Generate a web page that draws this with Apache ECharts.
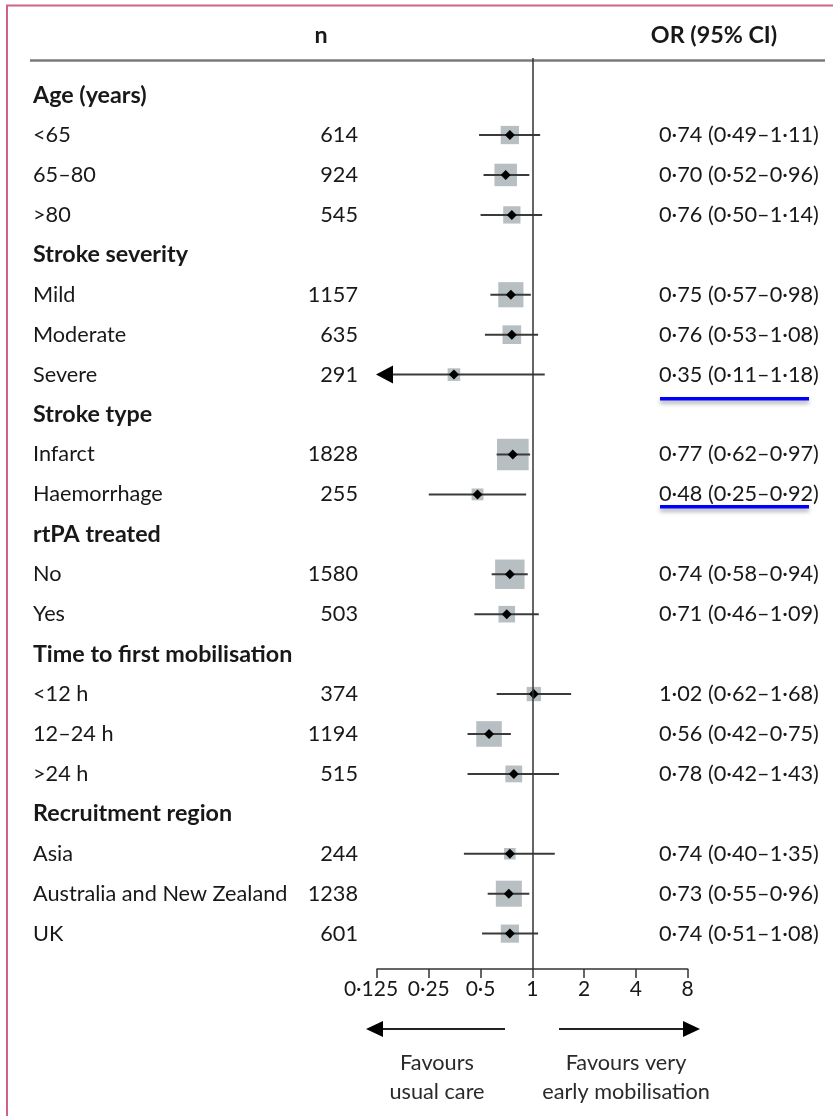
<!DOCTYPE html>
<html>
<head>
<meta charset="utf-8">
<script src="https://cdn.jsdelivr.net/npm/echarts@6/dist/echarts.min.js"></script>
<style>
html,body{margin:0;padding:0;background:#fff;}
#chart{width:833px;height:1116px;}
</style>
</head>
<body>
<div id="chart"></div>
<script>
// ---- data ----
const rowLabels = ['Age (years)', '<65', '65–80', '>80', 'Stroke severity', 'Mild', 'Moderate', 'Severe',
  'Stroke type', 'Infarct', 'Haemorrhage', 'rtPA treated', 'No', 'Yes', 'Time to first mobilisation',
  '<12 h', '12–24 h', '>24 h', 'Recruitment region', 'Asia', 'Australia and New Zealand', 'UK'];
const nValues = [null, 614, 924, 545, null, 1157, 635, 291, null, 1828, 255, null, 1580, 503, null, 374, 1194, 515, null, 244, 1238, 601];
const orValues = [null, 0.74, 0.70, 0.76, null, 0.75, 0.76, 0.35, null, 0.77, 0.48, null, 0.74, 0.71, null, 1.02, 0.56, 0.78, null, 0.74, 0.73, 0.74];
const ciLower = [null, 0.49, 0.52, 0.50, null, 0.57, 0.53, 0.11, null, 0.62, 0.25, null, 0.58, 0.46, null, 0.62, 0.42, 0.42, null, 0.40, 0.55, 0.51];
const ciUpper = [null, 1.11, 0.96, 1.14, null, 0.98, 1.08, 1.18, null, 0.97, 0.92, null, 0.94, 1.09, null, 1.68, 0.75, 1.43, null, 1.35, 0.96, 1.08];
const tickValues = [0.125, 0.25, 0.5, 1, 2, 4, 8];
const tickLabels = ['0·125', '0·25', '0·5', '1', '2', '4', '8'];

// ---- layout / style ----
const FONT = 'Lato, "Open Sans", sans-serif';
const TXT = '#1a1718';
const REG = '21.7px ' + FONT;
const BOLD = 'bold 23.3px ' + FONT;
const fmt = v => v.toFixed(2).replace('.', '·');
const xMin = 0.125, xMax = 8;

const chart = echarts.init(document.getElementById('chart'), null, {renderer: 'canvas'});

const rows = rowLabels.map((l, i) => [i, orValues[i] == null ? 1 : orValues[i]]);

function txt(text, x, y, align, font, fill) {
  return {type: 'text', style: {text, x, y, align, verticalAlign: 'middle',
    textAlign: align, textVerticalAlign: 'middle', font, fill: fill || TXT}};
}

function renderItem(params, api) {
  const i = params.dataIndex;
  const y = api.coord([1, i])[1];
  const children = [];
  const header = nValues[i] == null;
  children.push(txt(rowLabels[i], 33, y, 'left', header ? BOLD : REG));
  if (header) return {type: 'group', children};
  children.push(txt(String(nValues[i]), 358, y, 'right', REG));
  children.push(txt(fmt(orValues[i]) + ' (' + fmt(ciLower[i]) + '–' + fmt(ciUpper[i]) + ')', 659, y, 'left', REG));
  const clippedLow = ciLower[i] < xMin;
  const xl = api.coord([Math.max(ciLower[i], xMin), i])[0];
  const xh = api.coord([Math.min(ciUpper[i], xMax), i])[0];
  const xc = api.coord([orValues[i], i])[0];
  const side = 0.74 * Math.sqrt(nValues[i]);
  children.push({
    type: 'rect',
    shape: {x: xc - side / 2, y: y - side / 2, width: side, height: side},
    style: {fill: '#b7bfc3'}
  });
  children.push({
    type: 'line',
    shape: {x1: clippedLow ? xl + 10 : xl, y1: y, x2: xh, y2: y},
    style: {stroke: '#3a3a3a', lineWidth: 2}
  });
  if (clippedLow) {
    children.push({
      type: 'polygon',
      shape: {points: [[xl - 1, y], [xl + 16, y - 9], [xl + 16, y + 9]]},
      style: {fill: '#000'}
    });
  }
  const d = 5;
  children.push({
    type: 'polygon',
    shape: {points: [[xc - d, y], [xc, y - d], [xc + d, y], [xc, y + d]]},
    style: {fill: '#000'}
  });
  return {type: 'group', children};
}

const option = {
  backgroundColor: '#fff',
  animation: false,
  grid: {left: 377, right: 833 - 687.7, top: 58, bottom: 1116 - 969, containLabel: false},
  xAxis: {
    type: 'log', logBase: 2, min: xMin, max: xMax, splitNumber: 6, position: 'bottom',
    axisLine: {show: true, onZero: false, lineStyle: {color: '#333', width: 1.5}},
    axisTick: {show: true, length: 9, lineStyle: {color: '#333', width: 1.5}},
    axisLabel: {
      show: true, margin: 10, fontSize: 21, fontFamily: FONT, color: TXT,
      formatter: v => {
        const k = tickValues.findIndex(t => Math.abs(t - v) < 1e-9);
        if (k < 0) return '';
        return k === 0 ? '{first|' + tickLabels[k] + '}' : tickLabels[k];
      },
      rich: {first: {fontSize: 21, fontFamily: FONT, color: TXT, padding: [0, 12, 0, 0]}}
    },
    splitLine: {show: false}, minorTick: {show: false}
  },
  yAxis: {
    type: 'value', inverse: true, min: -0.929, max: 21.886, show: false
  },
  series: [{
    type: 'custom',
    data: rows,
    renderItem: renderItem,
    clip: false,
    silent: true,
    markLine: {
      silent: true, symbol: 'none', label: {show: false},
      lineStyle: {color: '#333', width: 1.5, type: 'solid'},
      data: [{xAxis: 1}]
    }
  }],
  graphic: [
    // frame
    {type: 'line', shape: {x1: 7, y1: 5, x2: 7, y2: 1116}, style: {stroke: '#d0628a', lineWidth: 2}},
    {type: 'line', shape: {x1: 6, y1: 5.5, x2: 833, y2: 5.5}, style: {stroke: '#d0628a', lineWidth: 2}},
    // header line
    {type: 'line', shape: {x1: 30, y1: 60.5, x2: 825, y2: 60.5}, style: {stroke: '#7a7a7a', lineWidth: 2.5}},
    txt('n', 321, 35, 'center', BOLD),
    txt('OR (95% CI)', 714, 35, 'center', BOLD),
    // blue underlines
    {type: 'rect', shape: {x: 660, y: 397, width: 149, height: 3.5},
      style: {fill: '#0000ff', shadowBlur: 4, shadowOffsetY: 3, shadowColor: 'rgba(0,0,0,0.35)'}},
    {type: 'rect', shape: {x: 660, y: 505, width: 149, height: 3.5},
      style: {fill: '#0000ff', shadowBlur: 4, shadowOffsetY: 3, shadowColor: 'rgba(0,0,0,0.35)'}},
    // direction arrows
    {type: 'line', shape: {x1: 380, y1: 1029, x2: 505, y2: 1029}, style: {stroke: '#222', lineWidth: 2}},
    {type: 'polygon', shape: {points: [[366, 1029], [383, 1021], [383, 1037]]}, style: {fill: '#000'}},
    {type: 'line', shape: {x1: 559, y1: 1029, x2: 686, y2: 1029}, style: {stroke: '#222', lineWidth: 2}},
    {type: 'polygon', shape: {points: [[700, 1029], [683, 1021], [683, 1037]]}, style: {fill: '#000'}},
    txt('Favours', 437, 1063, 'center', REG, '#2a2a2a'),
    txt('usual care', 437, 1092, 'center', REG, '#2a2a2a'),
    txt('Favours very', 626, 1063, 'center', REG, '#2a2a2a'),
    txt('early mobilisation', 626, 1092, 'center', REG, '#2a2a2a')
  ]
};
chart.setOption(option);
</script>
</body>
</html>
